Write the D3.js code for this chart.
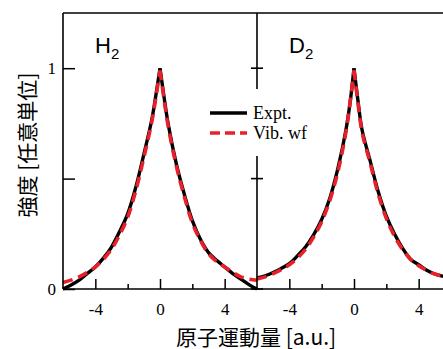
<!DOCTYPE html>
<html>
<head>
<meta charset="utf-8">
<script src="https://cdn.jsdelivr.net/npm/d3@7"></script>
<style>
html,body{margin:0;padding:0;background:#fff;overflow:hidden;}
svg{display:block;}
</style>
</head>
<body>
<svg id="chart" width="443" height="349"></svg>
<script>
// ---- data ----
const momentum = [-6,-5.5,-5,-4.5,-4,-3.5,-3,-2.5,-2,-1.5,-1,-0.5,-0.25,0,0.25,0.5,1,1.5,2,2.5,3,3.5,4,4.5,5,5.5,6];
const h2Expt = [0.0,0.018,0.04,0.07,0.10,0.14,0.19,0.26,0.34,0.46,0.61,0.77,0.88,1.0,0.87,0.75,0.57,0.43,0.31,0.225,0.165,0.13,0.10,0.07,0.045,0.02,0.0];
const h2Vib  = [0.03,0.04,0.055,0.075,0.10,0.135,0.18,0.245,0.325,0.445,0.595,0.76,0.87,0.99,0.86,0.74,0.56,0.42,0.30,0.22,0.16,0.125,0.10,0.075,0.055,0.045,0.04];
const d2Expt = [0.05,0.06,0.075,0.093,0.115,0.15,0.19,0.245,0.315,0.41,0.545,0.72,0.84,1.0,0.85,0.72,0.58,0.44,0.33,0.25,0.185,0.135,0.11,0.085,0.068,0.058,0.05];
const d2Vib  = [0.045,0.055,0.07,0.088,0.11,0.14,0.18,0.235,0.305,0.40,0.53,0.71,0.84,0.99,0.84,0.71,0.57,0.43,0.32,0.24,0.18,0.135,0.105,0.085,0.068,0.058,0.05];
const panelNames = ["H", "D"];
const xMajorTicks = [-4, 0, 4];
const xMinorTicks = [-2, 2];
const yTicks = [0, 0.5, 1];
const yTickLabels = ["0", "", "1"];
const legendLabels = ["Expt.", "Vib. wf"];
const xTitle = "原子運動量 [a.u.]";
const yTitle = "強度 [任意単位]";

(function () {
// ---- layout ----
const svg = d3.select("#chart");
const plotTop = 13, plotBottom = 289, plotLeft = 63, panelW = 194;
const y = d3.scaleLinear().domain([0, 1.25]).range([plotBottom, plotTop]);
const xs = [
  d3.scaleLinear().domain([-6, 6]).range([plotLeft, plotLeft + panelW]),
  d3.scaleLinear().domain([-6, 6]).range([plotLeft + panelW, plotLeft + 2 * panelW])
];
const RED = "#e8202a";
const serif = "'Liberation Serif','Times New Roman',serif";
const sans = "'Liberation Sans',Arial,sans-serif";
const cjk = "'Noto Sans CJK JP','Noto Sans CJK SC',sans-serif";

const series = [
  [{v: h2Expt, vib: false}, {v: h2Vib, vib: true}],
  [{v: d2Expt, vib: false}, {v: d2Vib, vib: true}]
];

// curves (drawn as two halves so the peak keeps its cusp)
series.forEach((ser, pi) => {
  const x = xs[pi];
  const line = d3.line().x(d => x(d[0])).y(d => y(d[1])).curve(d3.curveCatmullRom.alpha(0.5));
  ser.forEach(s => {
    const pts = momentum.map((m, i) => [m, s.v[i]]);
    const halves = [pts.filter(d => d[0] <= 0), pts.filter(d => d[0] >= 0)];
    halves.forEach(h => {
      svg.append("path")
        .attr("d", line(h))
        .attr("fill", "none")
        .attr("stroke", s.vib ? RED : "#000")
        .attr("stroke-width", s.vib ? 3.6 : 3.4)
        .attr("stroke-dasharray", s.vib ? "10,6" : null)
        .attr("stroke-linecap", "butt")
        .attr("stroke-linejoin", "miter");
    });
  });
});

// x axes (inward ticks)
xs.forEach((x) => {
  const gMaj = svg.append("g").attr("transform", `translate(0,${plotBottom})`)
    .call(d3.axisBottom(x).tickValues(xMajorTicks).tickSize(-10).tickPadding(14));
  const gMin = svg.append("g").attr("transform", `translate(0,${plotBottom})`)
    .call(d3.axisBottom(x).tickValues(xMinorTicks).tickSize(-5).tickFormat(""));
  gMin.selectAll("text").remove();
  [gMaj, gMin].forEach(g => {
    g.select(".domain").remove();
    g.selectAll("line").attr("stroke", "#000").attr("stroke-width", 1.5);
    g.selectAll("text").attr("font-family", serif).attr("font-size", 17).attr("fill", "#000");
  });
  gMaj.selectAll("text").text(d => d < 0 ? "-" + Math.abs(d) : String(d));
});

// left y axis
const gy = svg.append("g").attr("transform", `translate(${plotLeft},0)`)
  .call(d3.axisLeft(y).tickValues(yTicks).tickSize(-12).tickPadding(7).tickFormat((d, i) => yTickLabels[i]));
gy.select(".domain").remove();
gy.selectAll("line").attr("stroke", "#000").attr("stroke-width", 1.5);
gy.selectAll("text").attr("font-family", serif).attr("font-size", 17).attr("fill", "#000");
gy.selectAll("text").filter(function () { return this.textContent === ""; }).remove();

// frame
const frame = svg.append("g").attr("stroke", "#000").attr("stroke-width", 1.6).attr("fill", "none");
frame.append("line").attr("x1", plotLeft).attr("x2", plotLeft).attr("y1", plotTop).attr("y2", plotBottom);
frame.append("line").attr("x1", plotLeft).attr("x2", 443).attr("y1", plotTop).attr("y2", plotTop);
frame.append("line").attr("x1", plotLeft).attr("x2", 443).attr("y1", plotBottom).attr("y2", plotBottom);
const divX = xs[1].range()[0];
frame.append("line").attr("x1", divX).attr("x2", divX).attr("y1", plotTop).attr("y2", plotBottom);
yTicks.forEach(t => {
  frame.append("line").attr("x1", divX - 6).attr("x2", divX + 6).attr("y1", y(t)).attr("y2", y(t));
});

// legend (white box covers divider)
svg.append("rect").attr("x", 204).attr("y", 89).attr("width", 118).attr("height", 67).attr("fill", "#fff");
legendLabels.forEach((lab, i) => {
  const ly = 113 + i * 20;
  svg.append("line").attr("x1", 210).attr("x2", 247).attr("y1", ly).attr("y2", ly)
    .attr("stroke", i ? RED : "#000").attr("stroke-width", 3.6)
    .attr("stroke-dasharray", i ? "10,5" : null);
  svg.append("text").attr("x", 253).attr("y", ly + 5.5)
    .attr("font-family", serif).attr("font-size", 18).attr("fill", "#000").text(lab);
});

// panel labels
panelNames.forEach((n, pi) => {
  const t = svg.append("text").attr("x", xs[pi].range()[0] + 32).attr("y", 53)
    .attr("font-family", sans).attr("font-size", 22).attr("fill", "#000");
  t.append("tspan").text(n);
  t.append("tspan").attr("font-size", 15).attr("dy", 6).text("2");
});

// axis titles
svg.append("text").attr("x", 256).attr("y", 344.5).attr("text-anchor", "middle")
  .attr("font-family", cjk).attr("font-size", 21).attr("fill", "#000").text(xTitle);
svg.append("text").attr("transform", "translate(26,145) rotate(-90)")
  .attr("text-anchor", "middle").attr("dominant-baseline", "central")
  .attr("font-family", cjk).attr("font-size", 21).attr("fill", "#000").text(yTitle);
})();
</script>
</body>
</html>
